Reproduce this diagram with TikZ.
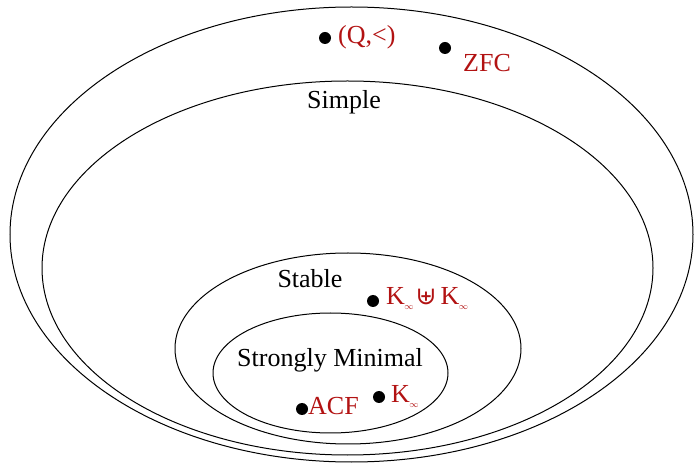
\documentclass[tikz,border=0pt]{standalone}
\usepackage{fontspec}
\setmainfont{Liberation Serif}
\newfontfamily\symfont{DejaVu Serif}
\usetikzlibrary{shapes.geometric}
\definecolor{labred}{RGB}{178,18,18}
\newcommand{\infsub}{\kern-0.5pt\raisebox{-5pt}{\fontsize{9.5}{9.5}\selectfont$\infty$}}
\newcommand{\muplus}{{\symfont\fontsize{25}{25}\selectfont ⊎}}
\begin{document}
\begin{tikzpicture}[x=1pt,y=-1pt]
\tikzset{
  ring/.style={draw,ellipse,line width=1pt,inner sep=0pt},
  dot/.style={circle,fill=black,inner sep=0pt,minimum size=12pt},
  lbl/.style={inner sep=0pt,font=\fontsize{26}{30}\selectfont},
  redlbl/.style={lbl,text=labred,anchor=base west}
}
\useasboundingbox (0,0) rectangle (694,470);
\node[ring,minimum width=683pt,minimum height=455pt] (outer) at (351.5,234.5) {};
\node[ring,minimum width=611pt,minimum height=374pt] (simple) at (347.5,268) {};
\node[ring,minimum width=346pt,minimum height=191pt] (stable) at (348,348.5) {};
\node[ring,minimum width=235pt,minimum height=120pt] (sm) at (330.5,373) {};

\node[lbl,anchor=base] (tsimple) at (344,109) {Simple};
\node[lbl,anchor=base] (tstable) at (310,288) {Stable};
\node[lbl,anchor=base] (tsm) at (330,367) {Strongly Minimal};

\node[dot] (dq) at (325,38) {};
\node[redlbl] (lq) at (338,44) {(Q,<)};
\node[dot] (dz) at (445,48) {};
\node[redlbl] (lz) at (463,72) {ZFC};
\node[dot] (dk2) at (373,301) {};
\node[redlbl] (lk2) at (386,305) {K\infsub\kern2pt\muplus\kern4pt K\infsub};
\node[dot] (dacf) at (302,409) {};
\node[redlbl] (lacf) at (308,415) {ACF};
\node[dot] (dk) at (379,397) {};
\node[redlbl] (lk) at (391,403) {K\infsub};
\end{tikzpicture}
\end{document}
